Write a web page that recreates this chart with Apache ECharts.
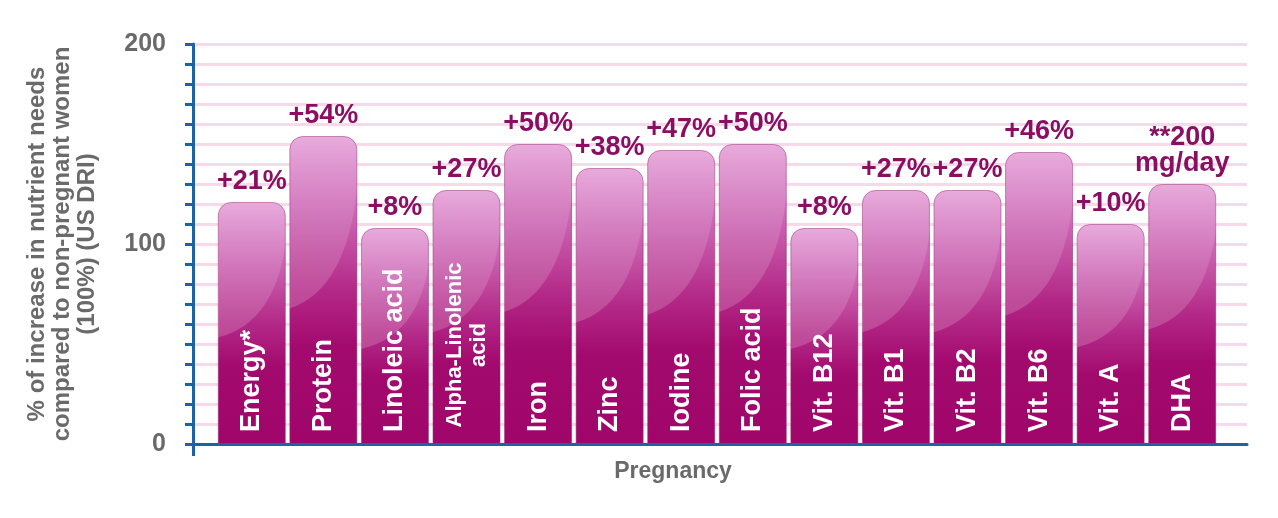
<!DOCTYPE html>
<html>
<head>
<meta charset="utf-8">
<script src="https://cdn.jsdelivr.net/npm/echarts@6/dist/echarts.min.js"></script>
<style>
  html, body { margin: 0; padding: 0; background: #fff; }
  #chart { width: 1278px; height: 518px; }
</style>
</head>
<body>
<div id="chart"></div>
<script type="text/javascript">

// nutrients and needs in pregnancy, non-pregnant = 100
var nutrients = ['Energy*', 'Protein', 'Linoleic acid', 'Alpha-Linolenic\nacid', 'Iron', 'Zinc', 'Iodine',
                 'Folic acid', 'Vit. B12', 'Vit. B1', 'Vit. B2', 'Vit. B6', 'Vit. A', 'DHA'];
var needs = [121, 154, 108, 127, 150, 138, 147, 150, 108, 127, 127, 146, 110, 130];
var increaseLabels = ['+21%', '+54%', '+8%', '+27%', '+50%', '+38%', '+47%',
                      '+50%', '+8%', '+27%', '+27%', '+46%', '+10%', '**200\nmg/day'];
var yTickLabels = ['0', '100', '200'];

var FONT = 'Arial, "Liberation Sans", sans-serif';
var BLUE = '#1c62a6';
var GREY = '#6a6a6a';
var PLUM = '#8a0e62';

var myChart = echarts.init(document.getElementById('chart'));

var barColor = new echarts.graphic.LinearGradient(0, 0, 0, 1, [
    { offset: 0, color: '#e6a4d9' },
    { offset: 0.22, color: '#cf6db8' },
    { offset: 0.5, color: '#b32987' },
    { offset: 0.68, color: '#a30a6e' },
    { offset: 1, color: '#a0066a' }
]);

// light gloss over the upper left of each bar
function renderGloss(params, api) {
    var top = api.coord([api.value(0), api.value(1)]);
    var base = api.coord([api.value(0), 0]);
    var w = api.size([1, 0])[0] * 0.95;
    var l = top[0] - w / 2, r = top[0] + w / 2, t = top[1], h = base[1] - t, rad = 13;
    var d = 'M' + l + ' ' + (t + 0.56 * h) +
            ' L' + l + ' ' + (t + rad) +
            ' Q' + l + ' ' + t + ' ' + (l + rad) + ' ' + t +
            ' L' + (r - rad) + ' ' + t +
            ' Q' + r + ' ' + t + ' ' + r + ' ' + (t + rad) +
            ' L' + r + ' ' + (t + 0.16 * h) +
            ' Q' + (r - 0.15 * w) + ' ' + (t + 0.5 * h) + ' ' + l + ' ' + (t + 0.56 * h) + ' Z';
    return {
        type: 'path',
        shape: { pathData: d },
        style: {
            fill: new echarts.graphic.LinearGradient(0, 0, 0, 1, [
                { offset: 0, color: 'rgba(255,255,255,0.08)' },
                { offset: 1, color: 'rgba(255,255,255,0.18)' }
            ])
        }
    };
}

option = {
    animation: false,
    title: {
        text: 'Pregnancy',
        left: 668,
        top: 455,
        textAlign: 'center',
        textStyle: { fontFamily: FONT, fontSize: 23, fontWeight: 'bold', color: GREY }
    },
    grid: [
        // axes, grid lines
        { left: 193, right: 31, top: 44, bottom: 74, outerBoundsMode: 'none', containLabel: false },
        // bars
        { left: 216, right: 60, top: 44, bottom: 74, outerBoundsMode: 'none', containLabel: false }
    ],
    xAxis: [
        {
            gridIndex: 0,
            type: 'category',
            boundaryGap: false,
            data: ['a', 'b'],
            z: 10,
            axisLine: { show: true, lineStyle: { color: BLUE, width: 3 } },
            axisTick: { show: true, length: 12, lineStyle: { color: BLUE, width: 3 },
                        interval: function (i) { return i === 0; } },
            axisLabel: { show: false }
        },
        {
            gridIndex: 1,
            type: 'category',
            data: nutrients,
            show: false
        }
    ],
    yAxis: [
        {
            gridIndex: 0,
            type: 'value',
            min: 0,
            max: 200,
            interval: 10,
            name: '% of increase in nutrient needs\ncompared to non-pregnant women\n(100%) (US DRI)',
            nameLocation: 'middle',
            nameRotate: 90,
            nameGap: 93,
            nameTextStyle: { fontFamily: FONT, fontSize: 24, fontWeight: 'bold', color: GREY, lineHeight: 25 },
            axisLine: { show: true, lineStyle: { color: BLUE, width: 3 } },
            axisTick: { show: true, length: 8, lineStyle: { color: BLUE, width: 3 } },
            axisLabel: {
                fontFamily: FONT, fontSize: 25, fontWeight: 'bold', color: GREY, margin: 27,
                formatter: function (v) {
                    var s = String(v);
                    return yTickLabels.indexOf(s) >= 0 ? s : '';
                }
            },
            splitLine: { show: true, lineStyle: { color: '#f8d9ea', width: 3 } }
        },
        {
            gridIndex: 1,
            type: 'value',
            min: 0,
            max: 200,
            show: false
        }
    ],
    series: [
        {
            name: 'needs',
            type: 'bar',
            xAxisIndex: 1,
            yAxisIndex: 1,
            barWidth: 68,
            data: needs,
            itemStyle: {
                color: barColor,
                borderColor: 'rgba(150,40,115,0.55)',
                borderWidth: 1,
                borderRadius: [13, 13, 0, 0]
            },
            label: {
                show: true,
                position: 'top',
                distance: 7,
                fontFamily: FONT,
                fontSize: 27,
                fontWeight: 'bold',
                color: PLUM,
                lineHeight: 26,
                formatter: function (p) { return increaseLabels[p.dataIndex]; }
            }
        },
        {
            name: 'gloss',
            type: 'custom',
            xAxisIndex: 1,
            yAxisIndex: 1,
            silent: true,
            z: 3,
            renderItem: renderGloss,
            encode: { x: 0, y: 1 },
            data: needs.map(function (v, i) { return [i, v]; })
        },
        {
            name: 'names',
            type: 'bar',
            xAxisIndex: 1,
            yAxisIndex: 1,
            barWidth: 68,
            barGap: '-100%',
            silent: true,
            z: 4,
            itemStyle: { color: 'rgba(0,0,0,0)' },
            label: {
                show: true,
                position: 'insideBottom',
                distance: 12,
                rotate: 90,
                align: 'left',
                verticalAlign: 'middle',
                fontFamily: FONT,
                fontSize: 27,
                fontWeight: 'bold',
                color: '#ffffff',
                formatter: function (p) { return nutrients[p.dataIndex]; }
            },
            data: needs.map(function (v, i) {
                // the two-line name is set smaller, second line centred under the first
                if (nutrients[i].indexOf('\n') >= 0) {
                    return { value: v, label: { fontSize: 22, lineHeight: 24, align: 'center', distance: 99 } };
                }
                return v;
            })
        }
    ]
};

myChart.setOption(option);
</script>
</body>
</html>
